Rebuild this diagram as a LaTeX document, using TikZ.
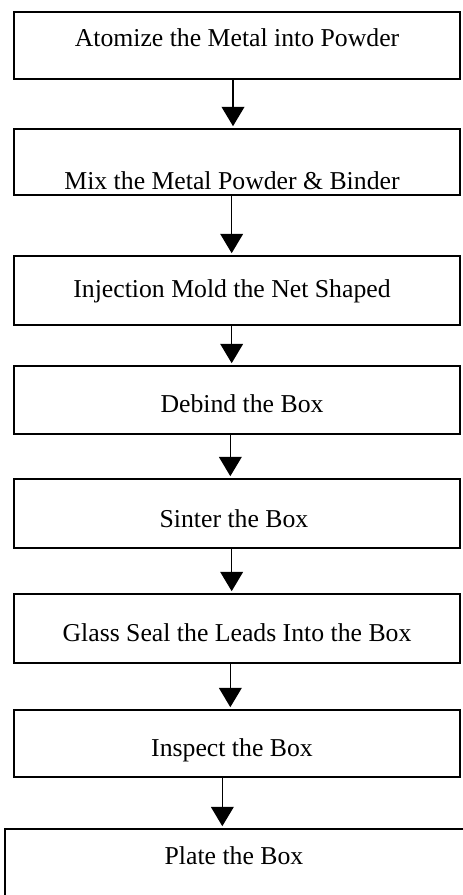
\documentclass[tikz,border=0pt]{standalone}
\usepackage{fontspec}
\setmainfont{Liberation Serif}
\usetikzlibrary{arrows.meta,fit}
\tikzset{
  box/.style={draw=black, line width=1.2pt, inner sep=0pt, fill=white},
  txt/.style={anchor=base, inner sep=0pt, font=\fontsize{19.3pt}{21pt}\selectfont},
  arr/.style={draw=black, line width=1.2pt, -{Triangle[length=14.5pt,width=17pt]}, shorten >=1.5pt}
}
\begin{document}
\begin{tikzpicture}[x=0.75pt,y=-0.75pt]
\useasboundingbox (0,0) rectangle (463,895);
\clip (0,0) rectangle (463,895);
\node[box, fit={(14,12) (460,79)}] (b1) {};
\node[box, fit={(14,129) (460,195)}] (b2) {};
\node[box, fit={(14,256) (460,325)}] (b3) {};
\node[box, fit={(14,366) (460,434)}] (b4) {};
\node[box, fit={(14,479) (460,548)}] (b5) {};
\node[box, fit={(14,594) (460,663)}] (b6) {};
\node[box, fit={(14,710) (460,777)}] (b7) {};
\node[box, fit={(5,829) (469,905)}] (b8) {};
\node[txt] (t1) at (237,47) {Atomize the Metal into Powder};
\node[txt] (t2) at (232,189) {Mix the Metal Powder \& Binder};
\node[txt] (t3) at (232,297) {Injection Mold the Net Shaped};
\node[txt] (t4) at (242,412) {Debind the Box};
\node[txt] (t5) at (234,527) {Sinter the Box};
\node[txt] (t6) at (237,641) {Glass Seal the Leads Into the Box};
\node[txt] (t7) at (232,756) {Inspect the Box};
\node[txt] (t8) at (234,864) {Plate the Box};
\draw[arr] ([xshift=-3]b1.south) -- ([xshift=-3]b2.north);
\draw[arr] ([xshift=-4]b2.south) -- ([xshift=-4]b3.north);
\draw[arr] ([xshift=-4]b3.south) -- ([xshift=-4]b4.north);
\draw[arr] ([xshift=-5]b4.south) -- ([xshift=-5]b5.north);
\draw[arr] ([xshift=-4]b5.south) -- ([xshift=-4]b6.north);
\draw[arr] ([xshift=-5]b6.south) -- ([xshift=-5]b7.north);
\draw[arr] ([xshift=-11]b7.south) -- ([xshift=-11]b8.north);
\end{tikzpicture}
\end{document}
